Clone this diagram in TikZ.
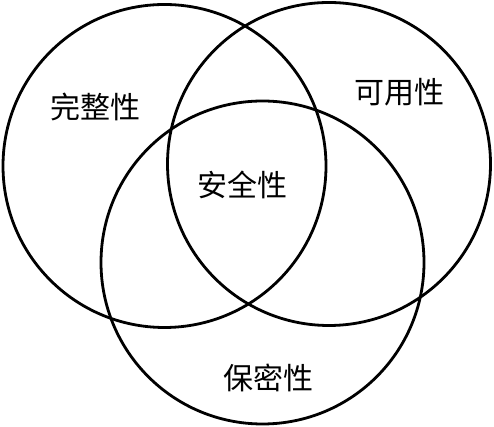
\documentclass[tikz,border=0pt]{standalone}
\usepackage{fontspec}
\newfontfamily\cjk{Noto Sans CJK SC}

\begin{document}
\begin{tikzpicture}[
  x=1pt, y=1pt,
  ring/.style={draw, circle, line width=2.8pt, minimum size=323pt, inner sep=0pt},
  tag/.style={font=\cjk\fontsize{30}{30}\selectfont, inner sep=0pt}
]
  \useasboundingbox (0,0) rectangle (494,427);
  \node[ring] (integ) at (164.5,261)   {};
  \node[ring] (avail) at (329,263)     {};
  \node[ring] (conf)  at (262.5,164.5) {};

  \node[tag] (integl) at (95,320)  {完整性};
  \node[tag] (availl) at (399,335) {可用性};
  \node[tag] (secl)   at (242,242) {安全性};
  \node[tag] (confl)  at (268,49)  {保密性};
\end{tikzpicture}
\end{document}
